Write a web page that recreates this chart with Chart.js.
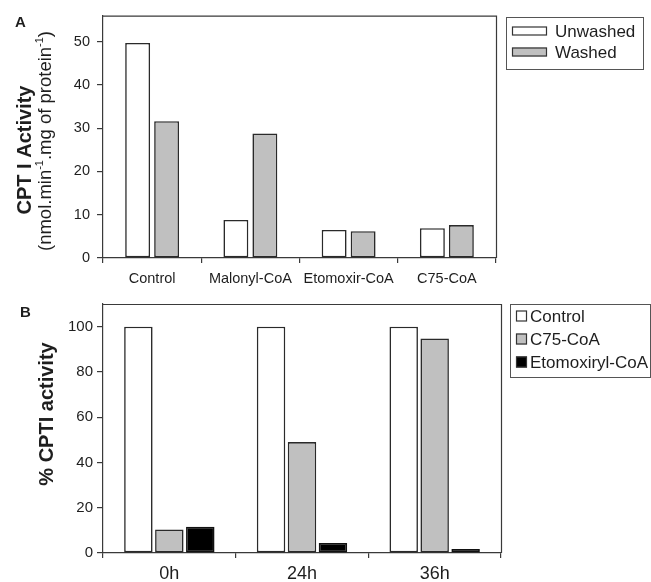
<!DOCTYPE html>
<html><head><meta charset="utf-8">
<script src="https://cdn.jsdelivr.net/npm/chart.js@4/dist/chart.umd.min.js"></script>
<style>
html,body{margin:0;padding:0;background:#fff;width:651px;height:582px;overflow:hidden}
#a{position:absolute;left:0;top:0}
#b{position:absolute;left:0;top:290px}
</style></head><body>
<canvas id="a" width="651" height="290"></canvas>
<canvas id="b" width="651" height="292"></canvas>
<script>
// ---- data ----
const categoriesA = ['Control', 'Malonyl-CoA', 'Etomoxir-CoA', 'C75-CoA'];
const unwashed = [49.7, 8.8, 6.5, 6.9];
const washed = [31.6, 28.8, 6.2, 7.6];
const categoriesB = ['0h', '24h', '36h'];
const controlB = [100, 100, 100];
const c75B = [10.4, 49.0, 94.8];
const etomoxirylB = [11.6, 4.4, 1.8];

const FONT = '"Liberation Sans", Arial, Helvetica, sans-serif';
const INK = '#1e1e1e';
const LINE = '#3a3a3a';
Chart.defaults.font.family = FONT;
Chart.defaults.color = INK;

function drawRotated(ctx, segs, cx, baseX, size, bold) {
  ctx.save();
  const fN = (bold ? 'bold ' : '') + size + 'px ' + FONT;
  const fS = (bold ? 'bold ' : '') + Math.round(size * 0.62) + 'px ' + FONT;
  let total = 0;
  segs.forEach(s => { ctx.font = s.sup ? fS : fN; s.w = ctx.measureText(s.t).width; total += s.w; });
  ctx.translate(baseX, cx);
  ctx.rotate(-Math.PI / 2);
  ctx.fillStyle = INK;
  ctx.textBaseline = 'alphabetic';
  ctx.textAlign = 'left';
  let x = -total / 2;
  segs.forEach(s => {
    ctx.font = s.sup ? fS : fN;
    ctx.fillText(s.t, x, s.sup ? -size * 0.42 : 0);
    x += s.w;
  });
  ctx.restore();
}

const deco = {
  id: 'deco',
  afterDraw(chart, args, opts) {
    const ctx = chart.ctx;
    const a = chart.chartArea;
    ctx.save();
    ctx.strokeStyle = LINE;
    ctx.lineWidth = 1.2;
    ctx.beginPath();
    ctx.moveTo(a.left, a.top + 0.5);
    ctx.lineTo(a.right + 0.5, a.top + 0.5);
    ctx.lineTo(a.right + 0.5, a.bottom);
    ctx.stroke();
    ctx.fillStyle = INK;
    ctx.font = 'bold 15px ' + FONT;
    ctx.textBaseline = 'alphabetic';
    ctx.fillText(opts.panel, opts.panelX, opts.panelY);
    opts.titles.forEach(t => drawRotated(ctx, t.segs, t.cy, t.bx, t.size, t.bold));
    const L = opts.legend;
    ctx.strokeStyle = '#555';
    ctx.lineWidth = 1;
    ctx.strokeRect(L.x + 0.5, L.y + 0.5, L.w, L.h);
    ctx.font = L.size + 'px ' + FONT;
    ctx.textBaseline = 'middle';
    chart.data.datasets.forEach((ds, i) => {
      const cy = L.rows[i];
      ctx.fillStyle = ds.backgroundColor;
      ctx.fillRect(L.sx, cy - L.sh / 2, L.sw, L.sh);
      ctx.strokeStyle = '#333';
      ctx.lineWidth = 1.2;
      ctx.strokeRect(L.sx + 0.5, cy - L.sh / 2 + 0.5, L.sw - 1, L.sh - 1);
      ctx.fillStyle = INK;
      ctx.fillText(ds.label, L.tx, cy + 1);
    });
    ctx.restore();
  }
};

function yScale(max, step, width, tickSize, pad) {
  return {
    min: 0, max: max,
    afterFit: s => { s.width = width; },
    afterBuildTicks: s => { s.ticks = s.ticks.filter(t => t.value % step === 0); },
    ticks: { stepSize: step, padding: pad, font: { size: tickSize }, color: INK },
    grid: { drawOnChartArea: false, drawTicks: true, tickLength: 6, color: LINE, lineWidth: 1.2 },
    border: { color: LINE, width: 1.2 }
  };
}
function xScale(height, tickSize, pad) {
  return {
    afterFit: s => { s.height = height; },
    ticks: { padding: pad, font: { size: tickSize }, color: INK, maxRotation: 0, autoSkip: false },
    grid: { offset: true, drawOnChartArea: false, drawTicks: true, tickLength: 5, color: LINE, lineWidth: 1.2 },
    border: { color: LINE, width: 1.2 }
  };
}

new Chart(document.getElementById('a'), {
  type: 'bar',
  data: {
    labels: categoriesA,
    datasets: [
      { label: 'Unwashed', data: unwashed, backgroundColor: '#ffffff', borderColor: '#2a2a2a', borderWidth: 1.6, borderSkipped: false },
      { label: 'Washed', data: washed, backgroundColor: '#c0c0c0', borderColor: '#2a2a2a', borderWidth: 1.6, borderSkipped: false }
    ]
  },
  options: {
    responsive: false, animation: false, devicePixelRatio: 1,
    layout: { padding: { left: 0, right: 155, top: 15, bottom: 0 } },
    datasets: { bar: { categoryPercentage: 0.59, barPercentage: 0.86 } },
    scales: { x: xScale(32, 14.5, 7), y: yScale(56, 10, 103, 14.5, 7) },
    plugins: {
      legend: { display: false }, tooltip: { enabled: false },
      deco: {
        panel: 'A', panelX: 15, panelY: 27,
        titles: [
          { segs: [{ t: 'CPT I Activity' }], cy: 150, bx: 31, size: 20, bold: true },
          { segs: [{ t: '(nmol.min' }, { t: '-1', sup: true }, { t: '.mg of protein' }, { t: '-1', sup: true }, { t: ')' }], cy: 141, bx: 51, size: 18.5, bold: false }
        ],
        legend: { x: 506, y: 17, w: 137, h: 52, size: 17, sx: 512, sw: 35, sh: 9, tx: 555, rows: [31, 52] }
      }
    }
  },
  plugins: [deco]
});

new Chart(document.getElementById('b'), {
  type: 'bar',
  data: {
    labels: categoriesB,
    datasets: [
      { label: 'Control', data: controlB, backgroundColor: '#ffffff', borderColor: '#2a2a2a', borderWidth: 1.6, borderSkipped: false },
      { label: 'C75-CoA', data: c75B, backgroundColor: '#c0c0c0', borderColor: '#2a2a2a', borderWidth: 1.6, borderSkipped: false },
      { label: 'Etomoxiryl-CoA', data: etomoxirylB, backgroundColor: '#000000', borderColor: '#111', borderWidth: 1.6, borderSkipped: false }
    ]
  },
  options: {
    responsive: false, animation: false, devicePixelRatio: 1,
    layout: { padding: { left: 0, right: 150, top: 14, bottom: 0 } },
    datasets: { bar: { categoryPercentage: 0.70, barPercentage: 0.92 } },
    scales: { x: xScale(29, 18, 5), y: yScale(110, 20, 103, 15, 4) },
    plugins: {
      legend: { display: false }, tooltip: { enabled: false },
      deco: {
        panel: 'B', panelX: 20, panelY: 27,
        titles: [
          { segs: [{ t: '% CPTI activity' }], cy: 124, bx: 53, size: 20, bold: true }
        ],
        legend: { x: 510, y: 14, w: 140, h: 73, size: 17, sx: 516, sw: 11, sh: 11, tx: 530, rows: [26, 49, 72] }
      }
    }
  },
  plugins: [deco]
});
</script>
</body></html>
